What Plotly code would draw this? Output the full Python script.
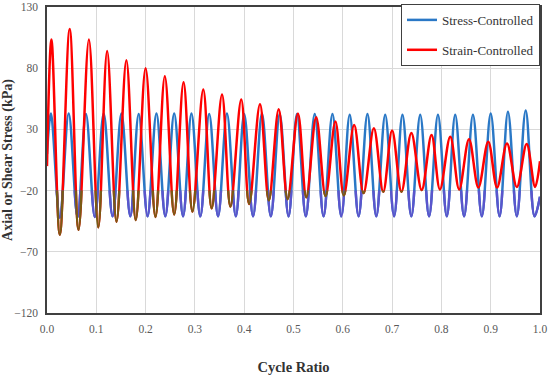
import plotly.graph_objects as go

# ---- data ----
x_ticks = [0.0, 0.1, 0.2, 0.3, 0.4, 0.5, 0.6, 0.7, 0.8, 0.9, 1.0]
y_ticks = [-120, -70, -20, 30, 80, 130]

# Stress-controlled (blue): start, alternating peaks / troughs, end
stress_start = (0.0, 10.0)
stress_end = (1.0, -25.0)
stress_peak_x = [0.008, 0.044, 0.079, 0.115, 0.151, 0.186, 0.222, 0.258, 0.293, 0.329,
                 0.365, 0.400, 0.436, 0.472, 0.507, 0.543, 0.579, 0.614, 0.650, 0.686,
                 0.721, 0.757, 0.793, 0.828, 0.864, 0.900, 0.935, 0.971]
stress_peak_y = [43, 43, 42.5, 43, 43, 42.5, 43, 43, 43, 42.5,
                 43, 42.5, 43, 42.5, 42.5, 42.5, 42.5, 42, 42.5, 42,
                 42, 42, 42, 42, 42, 43, 44.5, 45.5]
stress_trough_x = [0.026, 0.062, 0.097, 0.133, 0.169, 0.204, 0.240, 0.276, 0.311, 0.347,
                   0.383, 0.418, 0.454, 0.490, 0.525, 0.561, 0.597, 0.632, 0.668, 0.704,
                   0.739, 0.775, 0.811, 0.846, 0.882, 0.918, 0.953, 0.989]
stress_trough_y = [-42, -41.5, -41.5, -41, -41, -41, -41, -41, -41, -41,
                   -41, -41, -41, -41, -41, -41, -41, -41, -41, -41,
                   -41, -41, -41, -41, -41, -41, -41, -41]

# Strain-controlled (red)
strain_start = (0.0, 0.0)
strain_end = (1.0, 4.0)
strain_peak_x = [0.009, 0.046, 0.085, 0.122, 0.161, 0.200, 0.239, 0.277, 0.317, 0.355,
                 0.394, 0.432, 0.470, 0.509, 0.546, 0.585, 0.623, 0.663, 0.700, 0.739,
                 0.780, 0.818, 0.856, 0.895, 0.933, 0.973]
strain_peak_y = [103.5, 112, 103.5, 94, 86.5, 80, 73.5, 68.5, 62.5, 58.5,
                 54.5, 50.5, 46.5, 43, 40, 36.5, 33.5, 31, 29, 27,
                 25.5, 24, 22, 20, 18.5, 18]
strain_trough_x = [0.026, 0.064, 0.104, 0.141, 0.180, 0.220, 0.258, 0.295, 0.334, 0.372,
                   0.410, 0.450, 0.488, 0.526, 0.565, 0.602, 0.642, 0.682, 0.719, 0.760,
                   0.797, 0.836, 0.875, 0.913, 0.953, 0.990]
strain_trough_y = [-56, -52, -50, -45.5, -44, -41.5, -39.5, -37, -34.5, -33,
                   -31, -28, -27, -25.5, -24.5, -24, -22, -21, -21, -19.5,
                   -19, -19, -17.5, -17.5, -17, -17]


def interleave(start, px, py, tx, ty, end):
    xs, ys = [start[0]], [start[1]]
    for a, b, c, d in zip(px, py, tx, ty):
        xs += [a, c]
        ys += [b, d]
    xs.append(end[0])
    ys.append(end[1])
    return xs, ys


sx, sy = interleave(stress_start, stress_peak_x, stress_peak_y,
                    stress_trough_x, stress_trough_y, stress_end)
ex, ey = interleave(strain_start, strain_peak_x, strain_peak_y,
                    strain_trough_x, strain_trough_y, strain_end)

BLUE = "#2a78c6"
RED = "#ff0000"
BLUE_LOW = "#5b55cc"
RED_LOW = "#7a5a14"
SERIF = "Liberation Serif"

fig = go.Figure()
fig.add_trace(go.Scatter(x=sx, y=sy, mode="lines", name="Stress-Controlled",
                         legendgroup="a",
                         line=dict(color=BLUE, width=2.5, shape="spline")))
fig.add_trace(go.Scatter(x=ex, y=ey, mode="lines", name="Strain-Controlled",
                         legendgroup="b",
                         line=dict(color=RED, width=2.5, shape="spline")))
# same series re-drawn in a subplot clipped to the band below -20
fig.add_trace(go.Scatter(x=sx, y=sy, mode="lines", showlegend=False, yaxis="y2",
                         hoverinfo="skip",
                         line=dict(color=BLUE_LOW, width=2.5, shape="spline")))
fig.add_trace(go.Scatter(x=ex, y=ey, mode="lines", showlegend=False, yaxis="y2",
                         hoverinfo="skip",
                         line=dict(color=RED_LOW, width=2.5, shape="spline")))

fig.update_layout(
    width=550, height=376,
    margin=dict(l=47, r=10, t=7, b=63, autoexpand=False),
    paper_bgcolor="white",
    plot_bgcolor="rgba(0,0,0,0)",
    font=dict(family=SERIF, size=11, color="#595959"),
    xaxis=dict(
        range=[0, 1], tickvals=x_ticks, tickformat=".1f", automargin=False,
        showgrid=True, gridcolor="#d9d9d9", gridwidth=1,
        zeroline=False, showline=True, linecolor="#404040", linewidth=1.5,
        mirror=True, ticks="", ticklabelstandoff=4,
        tickfont=dict(family=SERIF, size=11.5, color="#595959"),
        title=dict(text="<b>Cycle Ratio</b>", standoff=28,
                   font=dict(family=SERIF, size=14.5, color="#333333")),
    ),
    yaxis=dict(
        range=[-120, 130], tickvals=y_ticks, automargin=False,
        showgrid=True, gridcolor="#d9d9d9", gridwidth=1,
        zeroline=False, showline=True, linecolor="#404040", linewidth=1.5,
        mirror=True, ticks="", ticklabelstandoff=5,
        tickfont=dict(family=SERIF, size=11.5, color="#595959"),
        title=dict(text="<b>Axial or Shear Stress (kPa)</b>", standoff=0,
                   font=dict(family=SERIF, size=14, color="#333333")),
    ),
    yaxis2=dict(
        domain=[0, 0.4], range=[-120, -20], anchor="x", automargin=False,
        visible=False, showgrid=False, zeroline=False,
    ),
    legend=dict(
        x=1, xanchor="right", y=1.01, yanchor="top",
        bgcolor="white", bordercolor="#404040", borderwidth=1,
        font=dict(family=SERIF, size=13, color="#333333"),
        traceorder="grouped", tracegroupgap=10,
    ),
)

fig.write_html("out.html", config={"displayModeBar": False},
               post_script="document.body.style.margin='0';")
